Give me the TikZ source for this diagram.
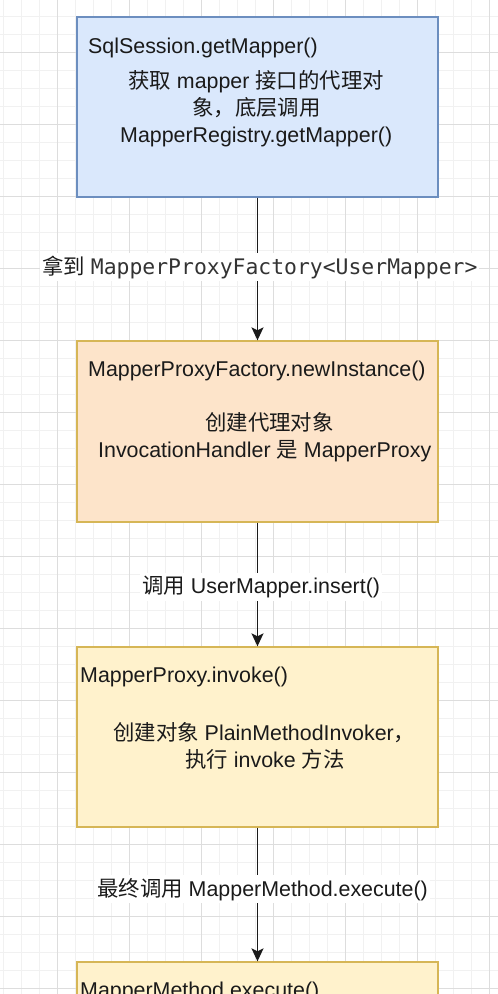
\documentclass[tikz,border=0pt]{standalone}
\usepackage{fontspec}
\setmainfont{Liberation Sans}
\newfontfamily\cjk{Noto Sans CJK SC}
\newfontfamily\monofam{DejaVu Sans Mono}
\usetikzlibrary{arrows.meta}
\newcommand\zh[1]{{\cjk #1}}
\definecolor{bluef}{HTML}{DAE8FC}
\definecolor{blued}{HTML}{6C8EBF}
\definecolor{orangef}{HTML}{FDE4CA}
\definecolor{yellowf}{HTML}{FFF2CC}
\definecolor{goldd}{HTML}{D6B656}
\definecolor{textc}{HTML}{1A1A1A}
\definecolor{gridminor}{HTML}{F1F1F1}
\definecolor{gridmajor}{HTML}{DDDDDD}
\tikzset{
  minorline/.style={draw=gridminor, line width=0.8bp},
  majorline/.style={draw=gridmajor, line width=1bp},
  boxstyle/.style={rectangle, line width=1.3bp, minimum width=361bp, inner sep=0pt},
  txt/.style={inner sep=0pt, anchor=base west, text=textc, font=\fontsize{21.4bp}{27bp}\selectfont},
  lbl/.style={txt, fill=white, inner xsep=2bp, inner ysep=3bp},
  arr/.style={line width=1.5bp, draw=textc, -{Stealth[length=13bp,width=12bp,inset=3bp]}}
}
\begin{document}
\begin{tikzpicture}[x=1bp,y=-1bp]
\useasboundingbox (0,0) rectangle (498,994);
\clip (0,0) rectangle (498,994);
\fill[white] (0,0) rectangle (498,994);
% grid
\foreach \i in {0,...,27} \draw[minorline] ({3+18*\i},0) -- ++(0,994);
\foreach \j in {0,...,55} \draw[minorline] (0,{-2+18*\j}) -- ++(498,0);
\foreach \i in {0,...,6} \draw[majorline] ({57+72*\i},0) -- ++(0,994);
\foreach \j in {0,...,13} \draw[majorline] (0,{52+72*\j}) -- ++(498,0);
% boxes
\node[boxstyle, fill=bluef, draw=blued, minimum height=180bp] (b1) at (257.5,107) {};
\node[boxstyle, fill=orangef, draw=goldd, minimum height=181bp] (b2) at (257.5,431.5) {};
\node[boxstyle, fill=yellowf, draw=goldd, minimum height=180bp] (b3) at (257.5,737) {};
\node[boxstyle, fill=yellowf, draw=goldd, minimum height=180bp] (b4) at (257.5,1052) {};
% box texts
\node[txt] (t1a) at (88,53) {SqlSession.getMapper()};
\node[txt] (t1b) at (128,88) {\zh{获取} mapper \zh{接口的代理对}};
\node[txt] (t1c) at (192,115) {\zh{象，底层调用}};
\node[txt] (t1d) at (120,142.5) {MapperRegistry.getMapper()};
\node[txt] (t2a) at (88,376) {MapperProxyFactory.newInstance()};
\node[txt] (t2b) at (205,430) {\zh{创建代理对象}};
\node[txt] (t2c) at (98,457.5) {InvocationHandler \zh{是} MapperProxy};
\node[txt] (t3a) at (80,682.5) {MapperProxy.invoke()};
\node[txt] (t3b) at (113,740) {\zh{创建对象} PlainMethodInvoker\zh{，}};
\node[txt] (t3c) at (185,767) {\zh{执行} invoke \zh{方法}};
\node[txt] (t4a) at (80,997) {MapperMethod.execute()};
% connectors
\draw[arr] (b1.south) -- (b2.north);
\draw[arr] (b2.south) -- (b3.north);
\draw[arr] (b3.south) -- (b4.north);
% labels
\node[lbl] (l1) at (40,274) {\zh{拿到} {\monofam\color{black!80}MapperProxyFactory<UserMapper>}};
\node[lbl] (l2) at (140,593.5) {\zh{调用} UserMapper.insert()};
\node[lbl] (l3) at (95,896) {\zh{最终调用} MapperMethod.execute()};
\end{tikzpicture}
\end{document}
